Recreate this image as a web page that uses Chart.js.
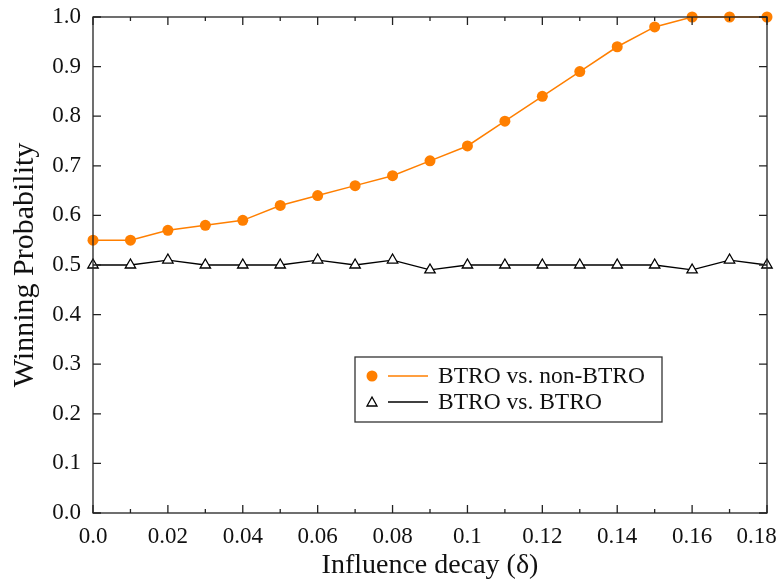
<!DOCTYPE html>
<html><head><meta charset="utf-8">
<script src="https://cdn.jsdelivr.net/npm/chart.js@4.4.1/dist/chart.umd.min.js"></script>
<style>html,body{margin:0;padding:0;background:#fff}#wrap{width:782px;height:585px}</style>
</head><body><div id="wrap"><canvas id="c" width="782" height="585"></canvas></div>
<script>
const xValues = [0,0.01,0.02,0.03,0.04,0.05,0.06,0.07,0.08,0.09,0.1,0.11,0.12,0.13,0.14,0.15,0.16,0.17,0.18];
const btroVsNon = [0.55,0.55,0.57,0.58,0.59,0.62,0.64,0.66,0.68,0.71,0.74,0.79,0.84,0.89,0.94,0.98,1.0,1.0,1.0];
const btroVsBtro = [0.50,0.50,0.51,0.50,0.50,0.50,0.51,0.50,0.51,0.49,0.50,0.50,0.50,0.50,0.50,0.50,0.49,0.51,0.50];
const xTickValues = [0,0.02,0.04,0.06,0.08,0.1,0.12,0.14,0.16,0.18];
const xTickLabels = ["0.0","0.02","0.04","0.06","0.08","0.1","0.12","0.14","0.16","0.18"];
const xMinorValues = [0.01,0.03,0.05,0.07,0.09,0.11,0.13,0.15,0.17];
const yTickValues = [0,0.1,0.2,0.3,0.4,0.5,0.6,0.7,0.8,0.9,1.0];
const yTickLabels = ["0.0","0.1","0.2","0.3","0.4","0.5","0.6","0.7","0.8","0.9","1.0"];
const seriesLabels = ["BTRO vs. non-BTRO","BTRO vs. BTRO"];
const xTitle = "Influence decay (\u03b4)";
const yTitle = "Winning Probability";

const ORANGE = "#ff7f00";
const FONT = "'Liberation Serif', 'DejaVu Serif', serif";

const frameTicks = {
  id: 'frameTicks',
  afterDatasetsDraw(chart) {
    const {ctx, chartArea: a, scales: {x, y}} = chart;
    ctx.save();
    ctx.strokeStyle = '#222';
    ctx.lineWidth = 1.3;
    ctx.strokeRect(a.left, a.top, a.right - a.left, a.bottom - a.top);
    ctx.beginPath();
    xTickValues.forEach(v => {
      const px = x.getPixelForValue(v);
      ctx.moveTo(px, a.bottom); ctx.lineTo(px, a.bottom - 8);
      ctx.moveTo(px, a.top); ctx.lineTo(px, a.top + 8);
    });
    xMinorValues.forEach(v => {
      const px = x.getPixelForValue(v);
      ctx.moveTo(px, a.bottom); ctx.lineTo(px, a.bottom - 4);
      ctx.moveTo(px, a.top); ctx.lineTo(px, a.top + 4);
    });
    yTickValues.forEach(v => {
      const py = y.getPixelForValue(v);
      ctx.moveTo(a.left, py); ctx.lineTo(a.left + 8, py);
      ctx.moveTo(a.right, py); ctx.lineTo(a.right - 8, py);
    });
    ctx.stroke();

    // legend box
    const bx = 355, by = 357, bw = 307, bh = 65;
    ctx.fillStyle = '#fff';
    ctx.fillRect(bx, by, bw, bh);
    ctx.strokeStyle = '#333';
    ctx.lineWidth = 1.3;
    ctx.strokeRect(bx, by, bw, bh);
    const rows = [by + 19, by + 45];
    chart.data.datasets.forEach((ds, i) => {
      const ry = rows[i];
      ctx.strokeStyle = ds.borderColor;
      ctx.lineWidth = ds.borderWidth;
      ctx.beginPath(); ctx.moveTo(388, ry); ctx.lineTo(428, ry); ctx.stroke();
      if (i === 0) {
        ctx.fillStyle = ORANGE;
        ctx.beginPath(); ctx.arc(372, ry, 5.5, 0, Math.PI * 2); ctx.fill();
      } else {
        ctx.fillStyle = '#fff'; ctx.strokeStyle = '#000'; ctx.lineWidth = 1.3;
        ctx.beginPath(); ctx.moveTo(372, ry - 5); ctx.lineTo(377, ry + 4); ctx.lineTo(367, ry + 4); ctx.closePath();
        ctx.fill(); ctx.stroke();
      }
      ctx.fillStyle = '#111';
      ctx.font = "23.5px " + FONT;
      ctx.textBaseline = 'middle';
      ctx.fillText(ds.label, 438, ry + 1);
    });
    ctx.restore();
  }
};

new Chart(document.getElementById('c'), {
  type: 'line',
  data: {
    datasets: [
      {
        label: seriesLabels[0],
        data: xValues.map((v, i) => ({x: v, y: btroVsNon[i]})),
        borderColor: ORANGE, backgroundColor: ORANGE,
        borderWidth: 1.5, pointRadius: 5.5, pointStyle: 'circle',
        pointBorderWidth: 0, pointBackgroundColor: ORANGE, clip: false
      },
      {
        label: seriesLabels[1],
        data: xValues.map((v, i) => ({x: v, y: btroVsBtro[i]})),
        borderColor: '#000', backgroundColor: '#fff',
        borderWidth: 1.3, pointRadius: 6, pointStyle: 'triangle',
        pointBorderWidth: 1.3, pointBackgroundColor: '#fff', pointBorderColor: '#000', clip: false
      }
    ]
  },
  options: {
    responsive: false, animation: false,
    layout: {padding: {top: 17, right: 15, left: 0, bottom: 0}},
    plugins: {legend: {display: false}, tooltip: {enabled: false}},
    scales: {
      x: {
        type: 'linear', min: 0, max: 0.18,
        afterBuildTicks: s => { s.ticks = xTickValues.map(v => ({value: v})); },
        afterFit: s => { s.height = 72; s.paddingLeft = 0; s.paddingRight = 0; },
        grid: {display: false, drawTicks: false},
        border: {display: false},
        ticks: {
          autoSkip: false, maxRotation: 0, padding: 10, color: '#111',
          font: {family: FONT, size: 23},
          callback: (v, i, arr) => i === arr.length - 1 ? xTickLabels[i] + "\u2002\u2009\u2009" : xTickLabels[i]
        },
        title: {display: true, text: xTitle, color: '#111', font: {family: FONT, size: 28}, padding: {top: 0, bottom: 3}}
      },
      y: {
        type: 'linear', min: 0, max: 1.0,
        afterBuildTicks: s => { s.ticks = yTickValues.map(v => ({value: v})); },
        afterFit: s => { s.width = 93; s.paddingTop = 0; s.paddingBottom = 0; },
        grid: {display: false, drawTicks: false},
        border: {display: false},
        ticks: {
          autoSkip: false, padding: 12, color: '#111',
          font: {family: FONT, size: 23},
          callback: (v, i) => yTickLabels[i]
        },
        title: {display: true, text: yTitle, color: '#111', font: {family: FONT, size: 30}, padding: {top: 7, bottom: 0}}
      }
    }
  },
  plugins: [frameTicks]
});
</script></body></html>
